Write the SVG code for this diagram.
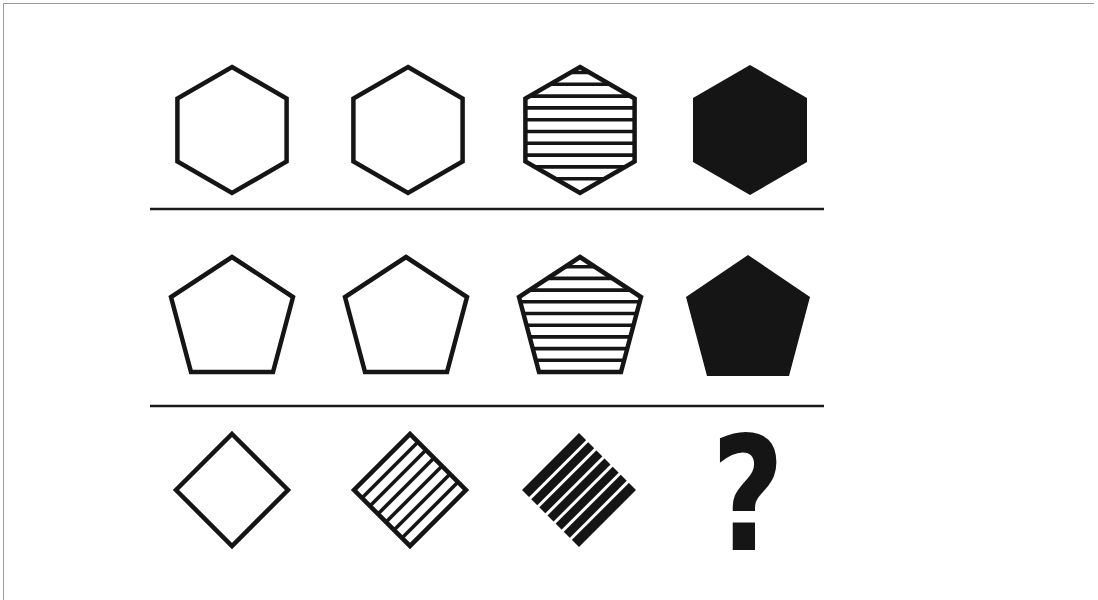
<svg xmlns="http://www.w3.org/2000/svg" width="1098" height="600" viewBox="0 0 1098 600">
<style>
.o{fill:none;stroke:#151515;stroke-width:4.5;stroke-linejoin:miter}
.s{stroke:#151515;stroke-width:3.6}
.w{stroke:#ffffff;stroke-width:3}
.f{fill:#151515}
.sep{stroke:#1a1a1a;stroke-width:2.5}
.q{font-family:"DejaVu Sans",sans-serif;font-weight:bold;font-size:158px;fill:#151515}
</style>
<defs>
<polygon id="hex" points="0,-63 54.6,-31.5 54.6,31.5 0,63 -54.6,31.5 -54.6,-31.5"/>
<polygon id="pent" points="0,-63 61,-23 41,52 -41,52 -61,-23"/>
<clipPath id="hexclip"><use href="#hex" transform="translate(580,130)"/></clipPath>
<clipPath id="pentclip"><use href="#pent" transform="translate(580,320)"/></clipPath>
</defs>
<rect width="1098" height="600" fill="#ffffff"/>
<g id="frame"><path d="M3.5,600 V3.5 H1094" fill="none" stroke="#9a9a9a" stroke-width="1"/></g>
<g id="separators">
<line class="sep" x1="150" y1="209" x2="824" y2="209"/>
<line class="sep" x1="150" y1="406" x2="824" y2="406"/>
</g>
<g id="hex1"><use href="#hex" class="o" transform="translate(232,130)"/></g>
<g id="hex2"><use href="#hex" class="o" transform="translate(408,130)"/></g>
<g id="hex3">
<g clip-path="url(#hexclip)" class="s">
<line x1="500" y1="72.5" x2="660" y2="72.5"/>
<line x1="500" y1="84.3" x2="660" y2="84.3"/>
<line x1="500" y1="96.1" x2="660" y2="96.1"/>
<line x1="500" y1="107.9" x2="660" y2="107.9"/>
<line x1="500" y1="119.7" x2="660" y2="119.7"/>
<line x1="500" y1="131.5" x2="660" y2="131.5"/>
<line x1="500" y1="143.3" x2="660" y2="143.3"/>
<line x1="500" y1="155.1" x2="660" y2="155.1"/>
<line x1="500" y1="166.9" x2="660" y2="166.9"/>
<line x1="500" y1="178.7" x2="660" y2="178.7"/>
</g>
<use href="#hex" class="o" transform="translate(580,130)"/>
</g>
<g id="hex4"><polygon class="f" points="750,65 807,98 807,162 750,195 693,162 693,98"/></g>
<g id="pent1"><use href="#pent" class="o" transform="translate(232,320)"/></g>
<g id="pent2"><use href="#pent" class="o" transform="translate(406,320)"/></g>
<g id="pent3">
<g clip-path="url(#pentclip)" class="s">
<line x1="500" y1="266.7" x2="660" y2="266.7"/>
<line x1="500" y1="278.4" x2="660" y2="278.4"/>
<line x1="500" y1="290.1" x2="660" y2="290.1"/>
<line x1="500" y1="301.8" x2="660" y2="301.8"/>
<line x1="500" y1="313.5" x2="660" y2="313.5"/>
<line x1="500" y1="325.2" x2="660" y2="325.2"/>
<line x1="500" y1="336.9" x2="660" y2="336.9"/>
<line x1="500" y1="348.6" x2="660" y2="348.6"/>
<line x1="500" y1="360.3" x2="660" y2="360.3"/>
</g>
<use href="#pent" class="o" transform="translate(580,320)"/>
</g>
<g id="pent4"><polygon class="f" points="748,255 810,297 789,376 707,376 686,297"/></g>
<g id="diamond1"><polygon class="o" points="232,434 288,490 232,546 176,490"/></g>
<g id="diamond2" transform="translate(410,490) rotate(45)">
<g class="s">
<line x1="-28.3" y1="-39.6" x2="-28.3" y2="39.6"/>
<line x1="-17" y1="-39.6" x2="-17" y2="39.6"/>
<line x1="-5.7" y1="-39.6" x2="-5.7" y2="39.6"/>
<line x1="5.7" y1="-39.6" x2="5.7" y2="39.6"/>
<line x1="17" y1="-39.6" x2="17" y2="39.6"/>
<line x1="28.3" y1="-39.6" x2="28.3" y2="39.6"/>
</g>
<rect class="o" x="-39.6" y="-39.6" width="79.2" height="79.2"/>
</g>
<g id="diamond3" transform="translate(579,490) rotate(45)">
<rect class="f" x="-40.3" y="-40.3" width="80.6" height="80.6"/>
<g class="w">
<line x1="-28.8" y1="-42" x2="-28.8" y2="42"/>
<line x1="-17.3" y1="-42" x2="-17.3" y2="42"/>
<line x1="-5.8" y1="-42" x2="-5.8" y2="42"/>
<line x1="5.8" y1="-42" x2="5.8" y2="42"/>
<line x1="17.3" y1="-42" x2="17.3" y2="42"/>
<line x1="28.8" y1="-42" x2="28.8" y2="42"/>
</g>
</g>
<g id="question"><text class="q" text-anchor="middle" transform="translate(748,550) scale(0.8,1)">?</text></g>
</svg>
